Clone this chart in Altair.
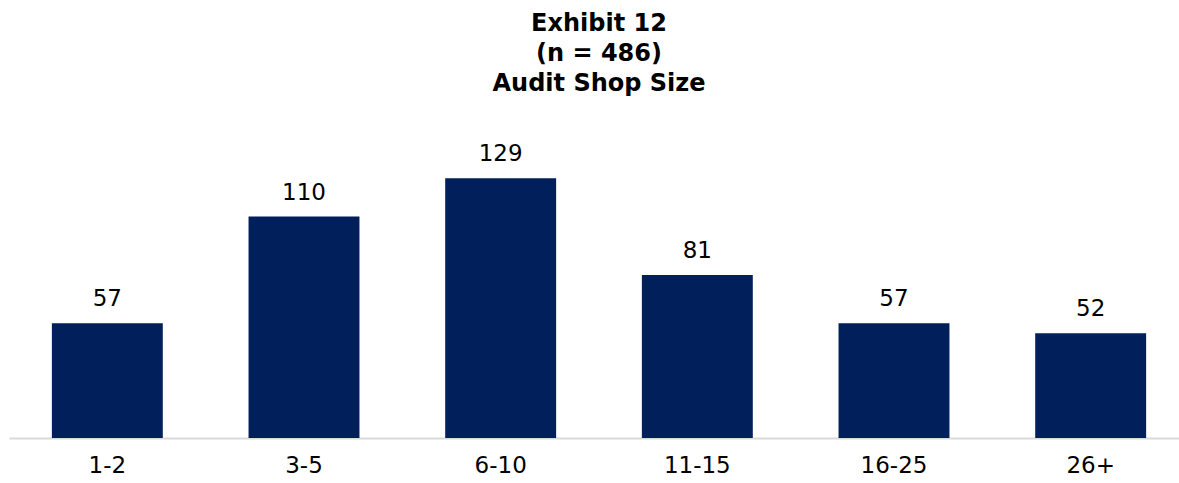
import altair as alt
import pandas as pd

categories = ["1-2", "3-5", "6-10", "11-15", "16-25", "26+"]
counts = [57, 110, 129, 81, 57, 52]
title_lines = ["Exhibit 12", "(n = 486)", "Audit Shop Size"]

df = pd.DataFrame({"cat": categories, "n": counts})

FONT = "DejaVu Sans"
NAVY = "#001F5B"

x = alt.X("cat:N", sort=categories, title=None,
          scale=alt.Scale(range=[0, 1180], paddingInner=0.436, paddingOuter=0.218),
          axis=alt.Axis(labelAngle=0, labelFontSize=23, labelFont=FONT, labelColor="#000000",
                        ticks=False, domainColor="#D9D9D9", domainWidth=2, labelPadding=16,
                        grid=False))
y = alt.Y("n:Q", title=None, scale=alt.Scale(domain=[0, 150], nice=False), axis=None)

bars = alt.Chart(df).mark_bar(color=NAVY).encode(x=x, y=y)
labels = alt.Chart(df).mark_text(baseline="bottom", dy=-12, fontSize=23, font=FONT,
                                 color="#000000").encode(x=x, y=y, text="n:Q")

chart = (bars + labels).properties(
    width=1170, height=302,
    title=alt.TitleParams(title_lines, fontSize=24, font=FONT, fontWeight="bold",
                          color="#000000", anchor="middle", frame="group", dx=5,
                          lineHeight=30, offset=40),
    autosize=alt.AutoSizeParams(type="none"),
    padding={"left": 9, "top": 136, "right": 0, "bottom": 45},
    background="#FFFFFF",
).configure_view(strokeWidth=0, stroke="transparent")

chart.save("out.html", embed_options={"renderer": "svg", "actions": False})
